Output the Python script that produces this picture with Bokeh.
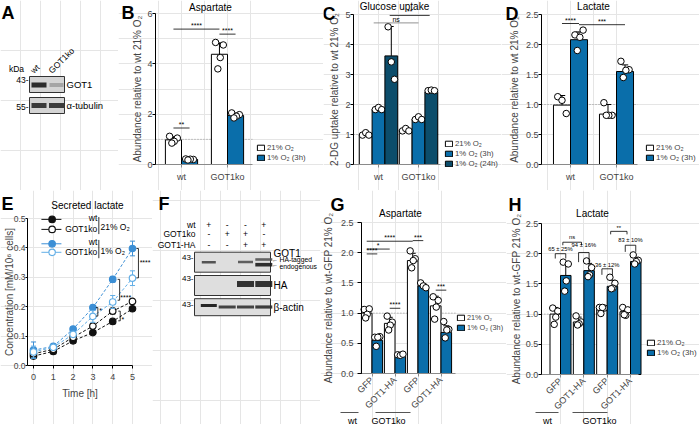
import math
from bokeh.plotting import figure
from bokeh.models import (Range1d, FixedTicker, Label, Legend, LegendItem,
                          LinearAxis, PrintfTickFormatter)
from bokeh.layouts import row, column
from bokeh.embed import file_html
from bokeh.resources import INLINE
from bokeh.core.properties import value

FONT = "Liberation Sans"
BLUE = "#0a6eaa"
DARK = "#0c4d6b"
EBLUE = "#3c8fd5"
ELIGHT = "#62aee6"
GRAY_AX = "#8a8a8a"

# ------------------------------------------------------------------ data
groups2 = ["wt", "GOT1ko"]
# B  Aspartate
asp_21 = [0.98, 4.38]
asp_21_err = [0.12, 0.45]
asp_1 = [0.20, 1.95]
asp_1_err = [0.02, 0.09]
asp_21_pts = [[1.12, 1.05, 0.92, 0.85], [4.85, 4.75, 4.25, 3.80]]
asp_1_pts = [[0.22, 0.20, 0.21, 0.18], [2.05, 1.98, 1.92, 1.85]]
# C  Glucose uptake
glu_21 = [1.02, 1.16]
glu_21_err = [0.03, 0.03]
glu_3h = [1.84, 1.52]
glu_3h_err = [0.04, 0.04]
glu_24h = [3.62, 2.42]
glu_24h_err = [0.98, 0.03]
glu_21_pts = [[0.98, 1.06, 0.98], [1.12, 1.20, 1.12]]
glu_3h_pts = [[1.83, 1.90, 1.83], [1.50, 1.59, 1.50]]
glu_24h_pts = [[4.59, 3.42, 2.84], [2.46, 2.48, 2.46]]
# D  Lactate
lac_21 = [0.99, 0.84]
lac_21_err = [0.16, 0.16]
lac_1 = [2.08, 1.55]
lac_1_err = [0.13, 0.11]
lac_21_pts = [[1.13, 1.07, 0.85], [1.03, 0.82, 0.82, 0.82]]
lac_1_pts = [[2.16, 2.24, 2.12, 1.90], [1.72, 1.58, 1.57, 1.45]]
# E  Secreted lactate
e_time = [0, 1, 2, 3, 4, 5]
e_wt_21 = [0.032, 0.048, 0.084, 0.112, 0.150, 0.193]
e_wt_21_err = [0.004, 0.003, 0.004, 0.004, 0.005, 0.006]
e_ko_21 = [0.040, 0.055, 0.096, 0.134, 0.185, 0.218]
e_ko_21_err = [0.010, 0.004, 0.006, 0.008, 0.010, 0.008]
e_wt_1 = [0.052, 0.065, 0.124, 0.197, 0.293, 0.398]
e_wt_1_err = [0.028, 0.005, 0.005, 0.008, 0.010, 0.025]
e_ko_1 = [0.046, 0.062, 0.106, 0.167, 0.216, 0.297]
e_ko_1_err = [0.020, 0.004, 0.006, 0.020, 0.022, 0.025]
# G / H categories
sub4 = ["GFP", "GOT1-HA", "GFP", "GOT1-HA"]
# G  Aspartate
gasp_21 = [1.00, 0.83, 1.87, 1.12]
gasp_21_err = [0.07, 0.10, 0.12, 0.16]
gasp_1 = [0.55, 0.29, 1.45, 0.68]
gasp_1_err = [0.07, 0.02, 0.04, 0.11]
gasp_21_pts = [[1.06, 1.07, 0.98, 0.92], [0.95, 0.85, 0.80, 0.72],
               [2.03, 1.90, 1.87, 1.75], [1.27, 1.21, 1.10, 0.90]]
gasp_1_pts = [[0.60, 0.61, 0.60, 0.45], [0.31, 0.30, 0.32],
              [1.50, 1.45, 1.42], [0.86, 0.73, 0.72, 0.59]]
# H  Lactate
hlac_21 = [1.00, 0.87, 1.08, 1.04]
hlac_21_err = [0.11, 0.08, 0.05, 0.07]
hlac_1 = [1.64, 1.72, 1.46, 1.87]
hlac_1_err = [0.20, 0.12, 0.10, 0.07]
hlac_21_pts = [[1.10, 1.05, 0.95, 0.83], [0.97, 0.87, 0.84, 0.82],
               [1.11, 1.10, 1.11, 1.01], [1.11, 1.07, 0.98, 0.99]]
hlac_1_pts = [[1.86, 1.83, 1.55, 1.38], [1.88, 1.77, 1.65, 1.62],
              [1.61, 1.51, 1.43, 1.42], [1.98, 1.89, 1.87, 1.83]]
h_pct = ["65 ± 25%", "94 ± 16%", "36 ± 12%", "83 ± 10%"]

O2 = "O\u2082"
LBL_21 = "21% " + O2
LBL_3H = "1% " + O2 + " (3h)"
LBL_24H = "1% " + O2 + " (24h)"


# ------------------------------------------------------------------ helpers
def lin(ra, va, rb, vb):
    k = (vb - va) / (rb - ra)
    return lambda pg: va + (pg - ra) * k


def data_panel(x0, x1, y0, y1, xmap, ymap):
    """Figure whose frame fills the whole canvas; data placed by a linear map."""
    fx = lin(*xmap)
    fy = lin(*ymap)
    p = figure(width=x1 - x0, height=y1 - y0,
               x_range=Range1d(fx(x0), fx(x1)), y_range=Range1d(fy(y1), fy(y0)),
               x_axis_location=None, y_axis_location=None, min_border=0,
               output_backend="svg", toolbar_location=None)
    p.extra_x_ranges = {"ref": Range1d(x0, x1)}
    p.extra_y_ranges = {"ref": Range1d(y1, y0)}
    p.outline_line_color = None
    return (p, x0, y1)


def blot_fig(x0, x1, y0, y1):
    p = figure(width=x1 - x0, height=y1 - y0,
               x_range=Range1d(x0, x1), y_range=Range1d(y1, y0),
               output_backend="svg", toolbar_location=None,
               x_axis_location=None, y_axis_location=None, min_border=0)
    p.outline_line_color = None
    return p


def style_axis(ax, tick_out=3, lab_standoff=0, size="9px"):
    ax.axis_line_color = "black"
    ax.axis_line_width = 1
    ax.major_tick_line_color = "black"
    ax.major_tick_in = 0
    ax.major_tick_out = tick_out
    ax.minor_tick_line_color = None
    ax.major_label_text_font = FONT
    ax.major_label_text_font_size = size
    ax.major_label_standoff = lab_standoff
    ax.axis_label_text_font = FONT
    ax.axis_label_text_font_size = "10px"
    ax.axis_label_text_font_style = "normal"


def add_axes(p, y_at, ybounds, yticks, yfmt, ylabel, ylab_standoff, xbounds, xticks,
             xlabels=None, xlabel=None, x_orient=None, y_tick_out=3, y_standoff=0,
             x_color=GRAY_AX, x_standoff=4, xlab_standoff=4, ysize="9px"):
    ya = LinearAxis(fixed_location=y_at, bounds=ybounds, ticker=FixedTicker(ticks=yticks),
                    axis_label=ylabel)
    style_axis(ya, tick_out=y_tick_out, lab_standoff=y_standoff, size=ysize)
    ya.axis_label_standoff = ylab_standoff
    if yfmt:
        ya.formatter = PrintfTickFormatter(format=yfmt)
    p.add_layout(ya, "left")
    xa = LinearAxis(fixed_location=0, bounds=xbounds, ticker=FixedTicker(ticks=xticks))
    style_axis(xa, lab_standoff=x_standoff)
    xa.axis_line_color = x_color
    xa.major_tick_line_color = x_color
    if xlabels:
        xa.major_label_overrides = {t: l for t, l in zip(xticks, xlabels)}
    if xlabel:
        xa.axis_label = xlabel
        xa.axis_label_standoff = xlab_standoff
    if x_orient is not None:
        xa.major_label_orientation = x_orient
    p.add_layout(xa, "below")


def ref_label(p, rx, ry, text, size="8px", bold=False, align="left",
              baseline="middle", angle=0.0, color="black"):
    p.add_layout(Label(x=rx, y=ry, x_range_name="ref", y_range_name="ref",
                       text=text, text_font=FONT, text_font_size=size,
                       text_font_style="bold" if bold else "normal",
                       text_align=align, text_baseline=baseline, angle=angle,
                       text_color=color))


def txt(p, xs, ys, texts, size="8px", align="left", baseline="middle", angle=0.0,
        bold=False, color="black"):
    p.text(x=xs, y=ys, text=texts, text_font=value(FONT), text_font_size=size,
           text_align=align, text_baseline=baseline, angle=angle,
           text_font_style="bold" if bold else "normal", text_color=color)


JIT = {3: [-0.25, 0.0, 0.25], 4: [-0.24, 0.24, 0.05, -0.1]}


def bar_series(p, xs, means, errs, pts, bw, color, cap):
    r = p.vbar(x=xs, top=means, bottom=0, width=bw, fill_color=color,
               line_color="black", line_width=1)
    tops = [m + e for m, e in zip(means, errs)]
    p.segment(x0=xs, y0=means, x1=xs, y1=tops, line_color="black", line_width=1)
    p.segment(x0=[x - cap for x in xs], y0=tops, x1=[x + cap for x in xs], y1=tops,
              line_color="black", line_width=1)
    qx, qy = [], []
    for x, pl in zip(xs, pts):
        for j, v in zip(JIT[len(pl)], pl):
            qx.append(x + j * bw)
            qy.append(v)
    p.scatter(x=qx, y=qy, size=6.5, marker="circle", fill_color="white",
              line_color="black", line_width=1)
    return r


def sig(p, items, size="7px", color="black"):
    p.segment(x0=[i[0] for i in items], y0=[i[2] for i in items],
              x1=[i[1] for i in items], y1=[i[2] for i in items],
              line_color=color, line_width=0.8)
    txt(p, [(i[0] + i[1]) / 2 for i in items], [i[2] for i in items],
        [i[3] for i in items], size=size, align="center", baseline="bottom")


def add_legend(P, items, rx, ry_bottom, size="8px"):
    p, x0, y1 = P
    lg = Legend(items=[LegendItem(label=l, renderers=[r]) for l, r in items],
                location=(rx - x0, y1 - ry_bottom), orientation="vertical",
                background_fill_alpha=0, border_line_color=None, padding=0, margin=0,
                spacing=1, glyph_width=9, glyph_height=7, label_height=8, label_width=10,
                label_standoff=2, label_text_font=FONT, label_text_font_size=size)
    p.add_layout(lg)


def dotted(p, x0, x1):
    p.segment(x0=[x0], y0=[1], x1=[x1], y1=[1], line_color="#999999",
              line_dash="1 2", line_width=1)


TOP0, TOP1, BOT1 = 0, 190, 424

# ------------------------------------------------------------------ A (blot)
pA = blot_fig(0, 118, TOP0, TOP1)
pA.rect(x=[46.5, 46.5], y=[84, 105], width=35, height=16, fill_color="#d4d4d4",
        line_color="#333333", line_width=1)
pA.rect(x=[38.5, 56, 38.5, 56], y=[84.5, 84.5, 105, 105], width=[15, 14, 15, 15],
        height=[5, 4, 5, 5], fill_color=["#1a1a1a", "#a0a0a0", "#2a2a2a", "#2a2a2a"],
        line_color=None, fill_alpha=0.9)
txt(pA, [1], [2], ["A"], size="18px", bold=True, baseline="top")
txt(pA, [16], [68], ["kDa"], size="8.5px", align="center")
txt(pA, [28, 28], [79, 106], ["43-", "55-"], size="8.5px", align="right")
txt(pA, [35, 53], [75, 75], ["wt", "GOT1ko"], size="8.5px", angle=math.pi / 4,
    baseline="bottom")
txt(pA, [66, 66], [84, 105], ["GOT1", "\u03b1-tubulin"], size="9.5px")

# ------------------------------------------------------------------ B
PB = data_panel(118, 323, TOP0, TOP1, (181, 1, 227, 2), (164, 0, 13, 6))
pB = PB[0]
bwB = 0.35
xB21 = [i + 1 - bwB / 2 for i in range(2)]
xB1 = [i + 1 + bwB / 2 for i in range(2)]
dotted(pB, 0.435, 2.54)
rB21 = bar_series(pB, xB21, asp_21, asp_21_err, asp_21_pts, bwB, "white", 0.07)
rB1 = bar_series(pB, xB1, asp_1, asp_1_err, asp_1_pts, bwB, BLUE, 0.07)
sig(pB, [(xB21[0], xB1[0], 1.45, "**"), (xB21[0], xB21[1], 5.38, "****"),
         (xB21[1], xB1[1], 5.18, "****")])
add_axes(pB, 0.435, (0, 6), [0, 2, 4, 6], None, "Abundance relative to wt 21% " + O2, 1,
         (0.435, 2.54), [1, 2], groups2)
add_legend(PB, [(LBL_21, rB21), (LBL_3H, rB1)], 256, 162, size="7.8px")
ref_label(pB, 121, 2, "B", size="18px", bold=True, baseline="top")
ref_label(pB, 210, 7, "Aspartate", size="10px", align="center")

# ------------------------------------------------------------------ C
PC = data_panel(323, 501, TOP0, TOP1, (378, 1, 418, 2), (164, 0, 14, 5))
pC = PC[0]
bwC = 0.32
xC = [[i + 1 + k * bwC for i in range(2)] for k in (-1, 0, 1)]
dotted(pC, 0.375, 2.55)
rC1 = bar_series(pC, xC[0], glu_21, glu_21_err, glu_21_pts, bwC, "white", 0.06)
rC2 = bar_series(pC, xC[1], glu_3h, glu_3h_err, glu_3h_pts, bwC, BLUE, 0.06)
rC3 = bar_series(pC, xC[2], glu_24h, glu_24h_err, glu_24h_pts, bwC, DARK, 0.06)
sig(pC, [(xC[1][0] - 0.12, xC[1][1], 4.72, "ns")], color="#777777")
sig(pC, [(xC[2][0] - 0.04, xC[2][1] - 0.04, 4.97, "**")])
add_axes(pC, 0.375, (0, 5), [0, 1, 2, 3, 4, 5], None,
         "2-DG uptake relative to wt 21% " + O2, 2, (0.375, 2.55), [1, 2], groups2)
add_legend(PC, [(LBL_21, rC1), (LBL_3H, rC2), (LBL_24H, rC3)], 444, 168, size="7.8px")
ref_label(pC, 322, 3, "C", size="18px", bold=True, baseline="top")
ref_label(pC, 394, 6, "Glucose uptake", size="10px", align="center")

# ------------------------------------------------------------------ D
PD = data_panel(501, 699, TOP0, TOP1, (570, 1, 616, 2), (164, 0, 14, 2.5))
pD = PD[0]
bwD = 0.37
xD21 = [i + 1 - bwD / 2 for i in range(2)]
xD1 = [i + 1 + bwD / 2 for i in range(2)]
dotted(pD, 0.37, 2.46)
rD21 = bar_series(pD, xD21, lac_21, lac_21_err, lac_21_pts, bwD, "white", 0.07)
rD1 = bar_series(pD, xD1, lac_1, lac_1_err, lac_1_pts, bwD, BLUE, 0.07)
sig(pD, [(xD21[0], xD1[0], 2.35, "****"), (xD1[0], xD1[1], 2.33, "***")])
add_axes(pD, 0.37, (0, 2.5), [0, 0.5, 1, 1.5, 2, 2.5], "%.1f",
         "Abundance relative to wt 21% " + O2, 3, (0.37, 2.46), [1, 2], groups2)
add_legend(PD, [(LBL_21, rD21), (LBL_3H, rD1)], 645, 162, size="8px")
ref_label(pD, 505, 3, "D", size="18px", bold=True, baseline="top")
ref_label(pD, 593, 6, "Lactate", size="10px", align="center")

# ------------------------------------------------------------------ E
PE = data_panel(0, 152, TOP1, BOT1, (33, 0, 132, 5), (365, 0, 218, 0.5))
pE = PE[0]
add_axes(pE, -0.3, (0, 0.5), [0, 0.1, 0.2, 0.3, 0.4, 0.5], "%.1f",
         "Concentration [mM/10\u2076 cells]", -4, (-0.3, 5), e_time, None,
         xlabel="Time [h]", y_tick_out=2, y_standoff=0, x_color="black",
         x_standoff=5, xlab_standoff=5, ysize="8.5px")

e_series = [
    (e_wt_21, e_wt_21_err, "#111111", "#111111", "#111111"),
    (e_ko_21, e_ko_21_err, "#111111", "white", "#111111"),
    (e_wt_1, e_wt_1_err, EBLUE, EBLUE, EBLUE),
    (e_ko_1, e_ko_1_err, ELIGHT, "white", ELIGHT),
]
for ys, es, lc, fc, mc in e_series:
    pE.line(x=e_time, y=ys, line_color=lc, line_dash="3 2", line_width=1)
    lo = [y - e for y, e in zip(ys, es)]
    hi = [y + e for y, e in zip(ys, es)]
    pE.segment(x0=e_time, y0=lo, x1=e_time, y1=hi, line_color=mc, line_width=1)
    pE.segment(x0=[t - 0.13 for t in e_time], y0=hi, x1=[t + 0.13 for t in e_time],
               y1=hi, line_color=mc, line_width=1)
    pE.segment(x0=[t - 0.13 for t in e_time], y0=lo, x1=[t + 0.13 for t in e_time],
               y1=lo, line_color=mc, line_width=1)
    pE.scatter(x=e_time, y=ys, size=6.5, marker="circle", fill_color=fc,
               line_color=mc, line_width=1.2)

e_br = [(5.3, 0.398, 0.298, "****", 5.36, 0.352),
        (4.35, 0.293, 0.222, "****", 4.38, 0.232),
        (3.25, 0.197, 0.168, "*", 3.32, 0.188),
        (4.38, 0.185, 0.152, "*", 4.45, 0.158)]
pE.segment(x0=[b[0] for b in e_br], y0=[b[1] for b in e_br],
           x1=[b[0] for b in e_br], y1=[b[2] for b in e_br], line_color="black",
           line_width=0.8)
pE.segment(x0=[b[0] - 0.1 for b in e_br] * 2, y0=[b[1] for b in e_br] + [b[2] for b in e_br],
           x1=[b[0] for b in e_br] * 2, y1=[b[1] for b in e_br] + [b[2] for b in e_br],
           line_color="black", line_width=0.8)
txt(pE, [b[4] for b in e_br], [b[5] for b in e_br], [b[3] for b in e_br], size="7px")

leg_y = [0.497, 0.463, 0.414, 0.385]
leg_c = [("#111111", "#111111"), ("white", "#111111"), (EBLUE, EBLUE), ("white", ELIGHT)]
pE.segment(x0=[0.40] * 4, y0=leg_y, x1=[1.41] * 4, y1=leg_y,
           line_color=[c[1] for c in leg_c], line_width=1)
pE.scatter(x=[0.94] * 4, y=leg_y, size=6.5, marker="circle",
           fill_color=[c[0] for c in leg_c], line_color=[c[1] for c in leg_c],
           line_width=1.2)
txt(pE, [3.22] * 4, [0.502, 0.463, 0.420, 0.385], ["wt", "GOT1ko", "wt", "GOT1ko"],
    size="8.5px", align="right")
pE.segment(x0=[3.3, 3.3], y0=[0.447, 0.365], x1=[3.3, 3.3], y1=[0.505, 0.427],
           line_color="black", line_width=0.8)
txt(pE, [3.38, 3.38], [0.472, 0.390], [LBL_21, "1% " + O2], size="8.5px")
ref_label(pE, 1, 193, "E", size="18px", bold=True, baseline="top")
ref_label(pE, 87, 205, "Secreted lactate", size="10px", align="center")

# ------------------------------------------------------------------ F (blot)
pF = blot_fig(152, 320, TOP1, BOT1)
lanes = [208.3, 226.7, 245.0, 263.3]
pF.rect(x=[232, 232, 232], y=[261.7, 285, 306.7], width=76, height=[20, 20, 17],
        fill_color="#dedede", line_color="#333333", line_width=1)
band_x = [lanes[0], lanes[2], lanes[3], lanes[3], lanes[2], lanes[3],
          lanes[0], lanes[1], lanes[2], lanes[3]]
band_y = [261.7, 261.5, 259.0, 264.2, 283.5, 283.5, 305.0, 306.5, 306.5, 306.5]
band_w = [14, 15, 17, 17, 17, 17, 16, 17, 17, 17]
band_h = [2.6, 2.6, 2.6, 3.6, 6, 6, 3.2, 3.2, 3.2, 3.2]
band_c = ["#444444", "#505050", "#555555", "#1c1c1c", "#1e1e1e", "#1e1e1e",
          "#111111", "#333333", "#333333", "#2a2a2a"]
pF.rect(x=band_x, y=band_y, width=band_w, height=band_h, fill_color=band_c,
        line_color=None, fill_alpha=0.9)
txt(pF, [158], [193], ["F"], size="18px", bold=True, baseline="top")
txt(pF, [195, 195, 195], [224, 233, 244], ["wt", "GOT1ko", "GOT1-HA"], size="8.5px",
    align="right")
signs = [["+", "-", "-", "+"], ["-", "+", "+", "-"], ["-", "-", "+", "+"]]
sx_, sy_, st_ = [], [], []
for yv, srow in zip([224, 233, 244], signs):
    for xv, s in zip(lanes, srow):
        sx_.append(xv)
        sy_.append(yv)
        st_.append(s)
txt(pF, sx_, sy_, st_, size="8.5px", align="center")
txt(pF, [193, 193, 193], [257, 278, 304], ["43-", "43-", "43-"], size="8px",
    align="right")
txt(pF, [273, 273, 273], [252.7, 285, 307], ["GOT1", "HA", "\u03b2-actin"],
    size="10px")
txt(pF, [271.5, 271.5], [259, 264.5], ["\u2190", "\u2190"], size="6px")
txt(pF, [279, 279], [258.5, 265.5], ["HA-tagged", "endogenous"], size="6.8px")

# ------------------------------------------------------------------ G
PG = data_panel(320, 506, TOP1, BOT1, (371.5, 1, 440.5, 4), (373, 0, 222, 2.5))
pG = PG[0]
bwG = 0.46
xG21 = [i + 1 - bwG / 2 for i in range(4)]
xG1 = [i + 1 + bwG / 2 for i in range(4)]
dotted(pG, 0.54, 4.63)
rG21 = bar_series(pG, xG21, gasp_21, gasp_21_err, gasp_21_pts, bwG, "white", 0.13)
rG1 = bar_series(pG, xG1, gasp_1, gasp_1_err, gasp_1_pts, bwG, BLUE, 0.13)
sig(pG, [(xG21[0], xG21[2], 2.19, "****"), (xG21[0], xG21[1], 2.06, "*"),
         (xG21[0], xG1[0], 1.98, "****"), (xG21[2], xG1[2], 2.20, "***"),
         (xG21[1], xG1[1], 1.08, "****"), (xG21[3], xG1[3], 1.38, "***")])
add_axes(pG, 0.54, (0, 2.5), [0, 0.5, 1, 1.5, 2, 2.5], "%.1f",
         "Abundance relative to wt-GFP 21% " + O2, 4, (0.54, 4.63), [1, 2, 3, 4], sub4,
         x_orient=math.pi / 4, y_tick_out=4, y_standoff=4, x_standoff=2)
add_legend(PG, [(LBL_21, rG21), (LBL_3H, rG1)], 456, 332, size="7.3px")
ref_label(pG, 330, 194, "G", size="18px", bold=True, baseline="top")
ref_label(pG, 400, 213, "Aspartate", size="10px", align="center")

# ------------------------------------------------------------------ H
PH = data_panel(506, 699, TOP1, BOT1, (560, 1, 630, 4), (374, 0, 223, 2.5))
pH = PH[0]
bwH = 0.45
xH21 = [i + 1 - bwH / 2 for i in range(4)]
xH1 = [i + 1 + bwH / 2 for i in range(4)]
dotted(pH, 0.18, 4.35)
rH21 = bar_series(pH, xH21, hlac_21, hlac_21_err, hlac_21_pts, bwH, "white", 0.13)
rH1 = bar_series(pH, xH1, hlac_1, hlac_1_err, hlac_1_pts, bwH, BLUE, 0.13)
# (x0, x1, bracket y, label, label y, leg bottom)
h_br = [(xH21[0], xH1[0], 2.00, h_pct[0], 2.08, 1.92),
        (xH21[1], xH1[1], 2.02, h_pct[1], 2.15, 1.86),
        (xH21[2], xH1[2], 1.75, h_pct[2], 1.81, 1.65),
        (xH21[3], xH1[3], 2.14, h_pct[3], 2.22, 2.03),
        (1.10, 1.90, 2.19, "ns", 2.27, 2.14),
        (3.15, 3.85, 2.37, "**", 2.43, 2.32)]
pH.segment(x0=[b[0] for b in h_br], y0=[b[2] for b in h_br],
           x1=[b[1] for b in h_br], y1=[b[2] for b in h_br], line_color="black",
           line_width=0.8)
pH.segment(x0=[b[0] for b in h_br] + [b[1] for b in h_br],
           y0=[b[2] for b in h_br] * 2,
           x1=[b[0] for b in h_br] + [b[1] for b in h_br],
           y1=[b[5] for b in h_br] * 2, line_color="black", line_width=0.8)
txt(pH, [(b[0] + b[1]) / 2 for b in h_br], [b[4] for b in h_br], [b[3] for b in h_br],
    size="5.8px", align="center", baseline="middle")
add_axes(pH, 0.18, (0, 2.5), [0, 0.5, 1, 1.5, 2, 2.5], "%.1f",
         "Abundance relative to wt-GFP 21% " + O2, 1, (0.18, 4.35), [1, 2, 3, 4], sub4,
         x_orient=math.pi / 4, x_standoff=2)
add_legend(PH, [(LBL_21, rH21), (LBL_3H, rH1)], 646, 357, size="8px")
ref_label(pH, 508, 194, "H", size="18px", bold=True, baseline="top")
ref_label(pH, 592, 213, "Lactate", size="10px", align="center")

# group labels below G and H (reference-pixel space)
for p, lines, labs in [
    (pG, [(340, 358), (375, 410)], [(352, "wt"), (388, "GOT1ko")]),
    (pH, [(535, 558), (572, 607)], [(547, "wt"), (599, "GOT1ko")]),
]:
    p.segment(x0=[a for a, b in lines], y0=[412, 412], x1=[b for a, b in lines],
              y1=[412, 412], x_range_name="ref", y_range_name="ref",
              line_color="#555555", line_width=1)
    for xv, t in labs:
        ref_label(p, xv, 420, t, size="9px", align="center")

layout = column(row(pA, pB, pC, pD), row(pE, pF, pG, pH))
open("out.html", "w").write(file_html(layout, INLINE))
